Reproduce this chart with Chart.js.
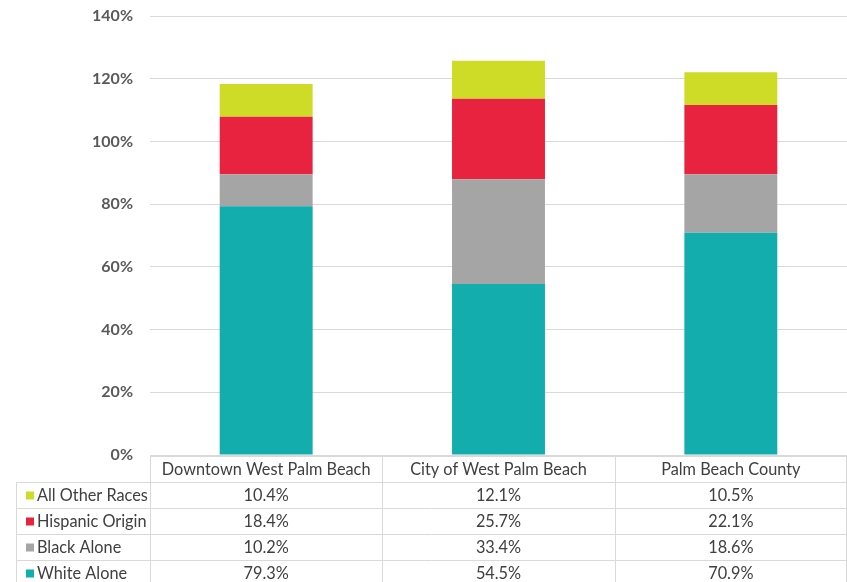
<!DOCTYPE html>
<html>
<head>
<meta charset="utf-8">
<script src="https://cdn.jsdelivr.net/npm/chart.js@4.4.1/dist/chart.umd.min.js"></script>
<style>
html,body{margin:0;padding:0;background:#fff;}
#wrap{width:847px;height:582px;position:relative;}
</style>
</head>
<body>
<div id="wrap"><canvas id="c" width="847" height="582"></canvas></div>
<script>
const categories = ["Downtown West Palm Beach", "City of West Palm Beach", "Palm Beach County"];
const whiteAlone = [79.3, 54.5, 70.9];
const blackAlone = [10.2, 33.4, 18.6];
const hispanicOrigin = [18.4, 25.7, 22.1];
const allOtherRaces = [10.4, 12.1, 10.5];
const yTicks = [0, 20, 40, 60, 80, 100, 120, 140];

const FONT = "Lato, 'Open Sans', sans-serif";
const TEXT = "#404040";

const datasets = [
  {label: "White Alone", data: whiteAlone, backgroundColor: "#14ADAD"},
  {label: "Black Alone", data: blackAlone, backgroundColor: "#A5A5A5"},
  {label: "Hispanic Origin", data: hispanicOrigin, backgroundColor: "#E8233F"},
  {label: "All Other Races", data: allOtherRaces, backgroundColor: "#CEDC28"}
];

const tablePlugin = {
  id: 'dataTable',
  afterDraw(chart) {
    const ctx = chart.ctx;
    const xs = chart.scales.x;
    const ca = chart.chartArea;
    const colW = (ca.right - ca.left) / categories.length;
    const top = ca.bottom + 1;
    const rowH = 26;
    const legendLeft = 16.5;
    const rows = [datasets[3], datasets[2], datasets[1], datasets[0]];
    ctx.save();
    ctx.strokeStyle = "#D9D9D9";
    ctx.lineWidth = 1;
    ctx.beginPath();
    ctx.moveTo(ca.left + 0.5, top + 0.5);
    ctx.lineTo(ca.right - 0.5, top + 0.5);
    for (let r = 1; r <= rows.length + 1; r++) {
      const y = Math.round(top + r * rowH) + 0.5;
      ctx.moveTo(legendLeft, y);
      ctx.lineTo(ca.right - 0.5, y);
    }
    const bottom = top + (rows.length + 1) * rowH + 4;
    for (let i = 0; i <= categories.length; i++) {
      const x = Math.round(ca.left + i * colW) + (i === categories.length ? -0.5 : 0.5);
      ctx.moveTo(x, top);
      ctx.lineTo(x, bottom);
    }
    ctx.moveTo(legendLeft, top + rowH);
    ctx.lineTo(legendLeft, bottom);
    ctx.stroke();

    ctx.fillStyle = TEXT;
    ctx.font = "16.3px " + FONT;
    ctx.textAlign = "center";
    ctx.textBaseline = "middle";
    categories.forEach((c, i) => {
      const cx = xs.getPixelForValue(i);
      ctx.fillText(c, cx, top + rowH / 2 + 1);
    });
    rows.forEach((ds, r) => {
      const cy = top + rowH * (r + 1) + rowH / 2 + 1;
      ds.data.forEach((v, i) => {
        ctx.fillStyle = TEXT;
        ctx.textAlign = "center";
        ctx.fillText(v.toFixed(1) + "%", xs.getPixelForValue(i), cy);
      });
      ctx.fillStyle = ds.backgroundColor;
      ctx.fillRect(26, cy - 4.5, 8, 8);
      ctx.fillStyle = TEXT;
      ctx.textAlign = "left";
      ctx.fillText(ds.label, 37, cy);
    });
    ctx.restore();
  }
};

new Chart(document.getElementById('c'), {
  type: 'bar',
  data: {labels: categories, datasets: datasets},
  options: {
    responsive: false,
    animation: false,
    events: [],
    layout: {padding: {top: 16, bottom: 127, left: 0, right: 0}},
    plugins: {legend: {display: false}, tooltip: {enabled: false}},
    datasets: {bar: {categoryPercentage: 1.0, barPercentage: 0.4}},
    scales: {
      x: {stacked: true, display: false},
      y: {
        stacked: true,
        min: 0, max: 140,
        afterFit(s) { s.width = 150; s.paddingTop = 0; s.paddingBottom = 0; },
        afterBuildTicks(s) { s.ticks = yTicks.map(v => ({value: v})); },
        border: {display: false},
        grid: {color: "#D9D9D9", drawTicks: false, lineWidth: 1},
        ticks: {
          padding: 17,
          color: "#595959",
          font: {family: FONT, size: 16, weight: 'bold'},
          callback: v => v + "%"
        }
      }
    }
  },
  plugins: [tablePlugin]
});
</script>
</body>
</html>
